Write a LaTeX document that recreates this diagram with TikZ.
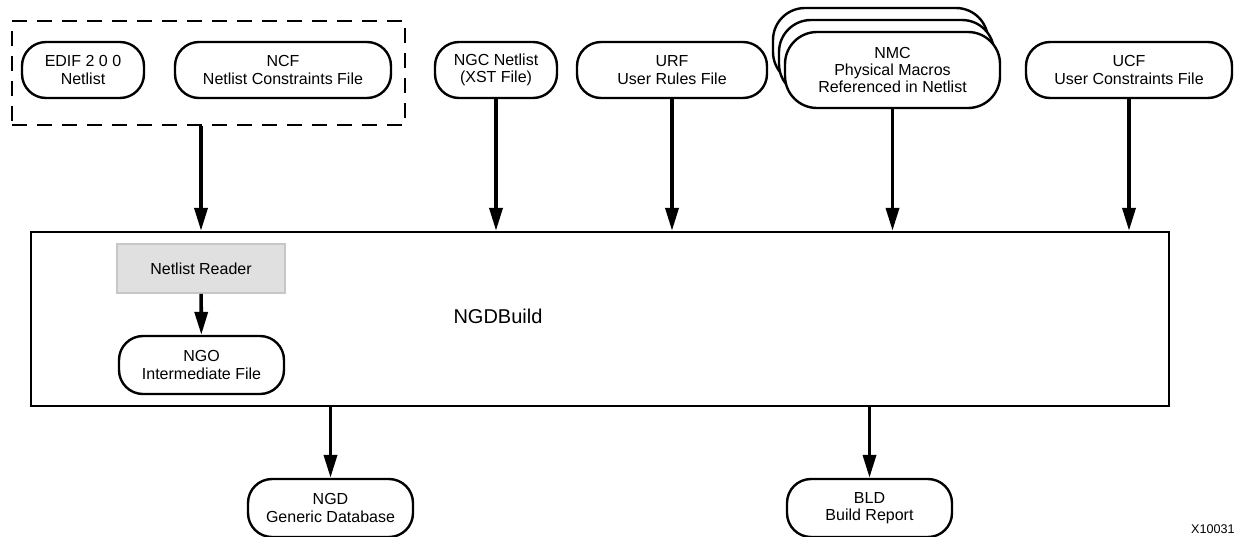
\documentclass[tikz,border=0pt]{standalone}
\usepackage{fontspec}
\setmainfont{Liberation Sans}
\usetikzlibrary{arrows.meta}
\tikzset{
  lbl/.style={font=\fontsize{8}{8.6}\selectfont, align=center},
  filebox/.style={draw, line width=1.2pt, rounded corners=12pt, fill=white, lbl, inner sep=0pt, minimum height=28pt},
  arr/.style={line width=1.8pt, -{Triangle[length=11.5pt,width=6.5pt]}},
}
\begin{document}
\begin{tikzpicture}[x=0.5pt,y=-0.5pt]
\useasboundingbox (0,0) rectangle (1236,536);
% dashed group
\node[draw, line width=0.8pt, dash pattern=on 7.5pt off 5pt, minimum width=196.5pt, minimum height=52pt, inner sep=0pt] (group) at (208.5,73) {};
\node[filebox, minimum width=61pt] (edif) at (83,70) {EDIF 2 0 0\\Netlist};
\node[filebox, minimum width=108pt] (ncf) at (283,70) {NCF\\Netlist Constraints File};
\node[filebox, minimum width=61pt] (ngc) at (496,70) {NGC Netlist\\(XST File)};
\node[filebox, minimum width=95pt] (urf) at (672,70) {URF\\User Rules File};
% NMC stack
\node[filebox, minimum width=107.5pt, minimum height=38pt, rounded corners=16pt] (nmcb) at (880.5,46) {};
\node[filebox, minimum width=107.5pt, minimum height=38pt, rounded corners=16pt] (nmcm) at (886.5,58) {};
\node[filebox, minimum width=107.5pt, minimum height=38pt, rounded corners=16pt] (nmc) at (892.5,70) {NMC\\Physical Macros\\Referenced in Netlist};
\node[filebox, minimum width=103pt] (ucf) at (1129,70) {UCF\\User Constraints File};
% main block
\node[draw, line width=1.2pt, minimum width=569pt, minimum height=87pt, inner sep=0pt] (main) at (600,319) {};
\node[draw=black!22, fill=black!12, line width=0.8pt, minimum width=84pt, minimum height=24.5pt, inner sep=0pt, lbl] (reader) at (201,268.5) {Netlist Reader};
\node[filebox, minimum width=82.5pt, minimum height=29pt] (ngo) at (201.5,365) {NGO\\Intermediate File};
\node[font=\fontsize{10}{12}\selectfont] (ngdb) at (498,316) {NGDBuild};
% outputs
\node[filebox, minimum width=82.5pt, minimum height=29pt] (ngd) at (330.5,508) {NGD\\Generic Database};
\node[filebox, minimum width=82.5pt, minimum height=29pt] (bld) at (869.5,508) {BLD\\Build Report};
\node[font=\fontsize{6.3}{7}\selectfont, anchor=base east, inner sep=0pt] (fig) at (1235,533) {X10031};
% connectors
\draw[arr] (group.south -| reader) -- (main.north -| reader);
\draw[arr] (ngc) -- (main.north -| ngc);
\draw[arr] (urf) -- (main.north -| urf);
\draw[arr] (nmc) -- (main.north -| nmc);
\draw[arr] (ucf) -- (main.north -| ucf);
\draw[arr] (reader) -- (ngo);
\draw[arr] (main.south -| ngd) -- (ngd);
\draw[arr] (main.south -| bld) -- (bld);
\end{tikzpicture}
\end{document}
